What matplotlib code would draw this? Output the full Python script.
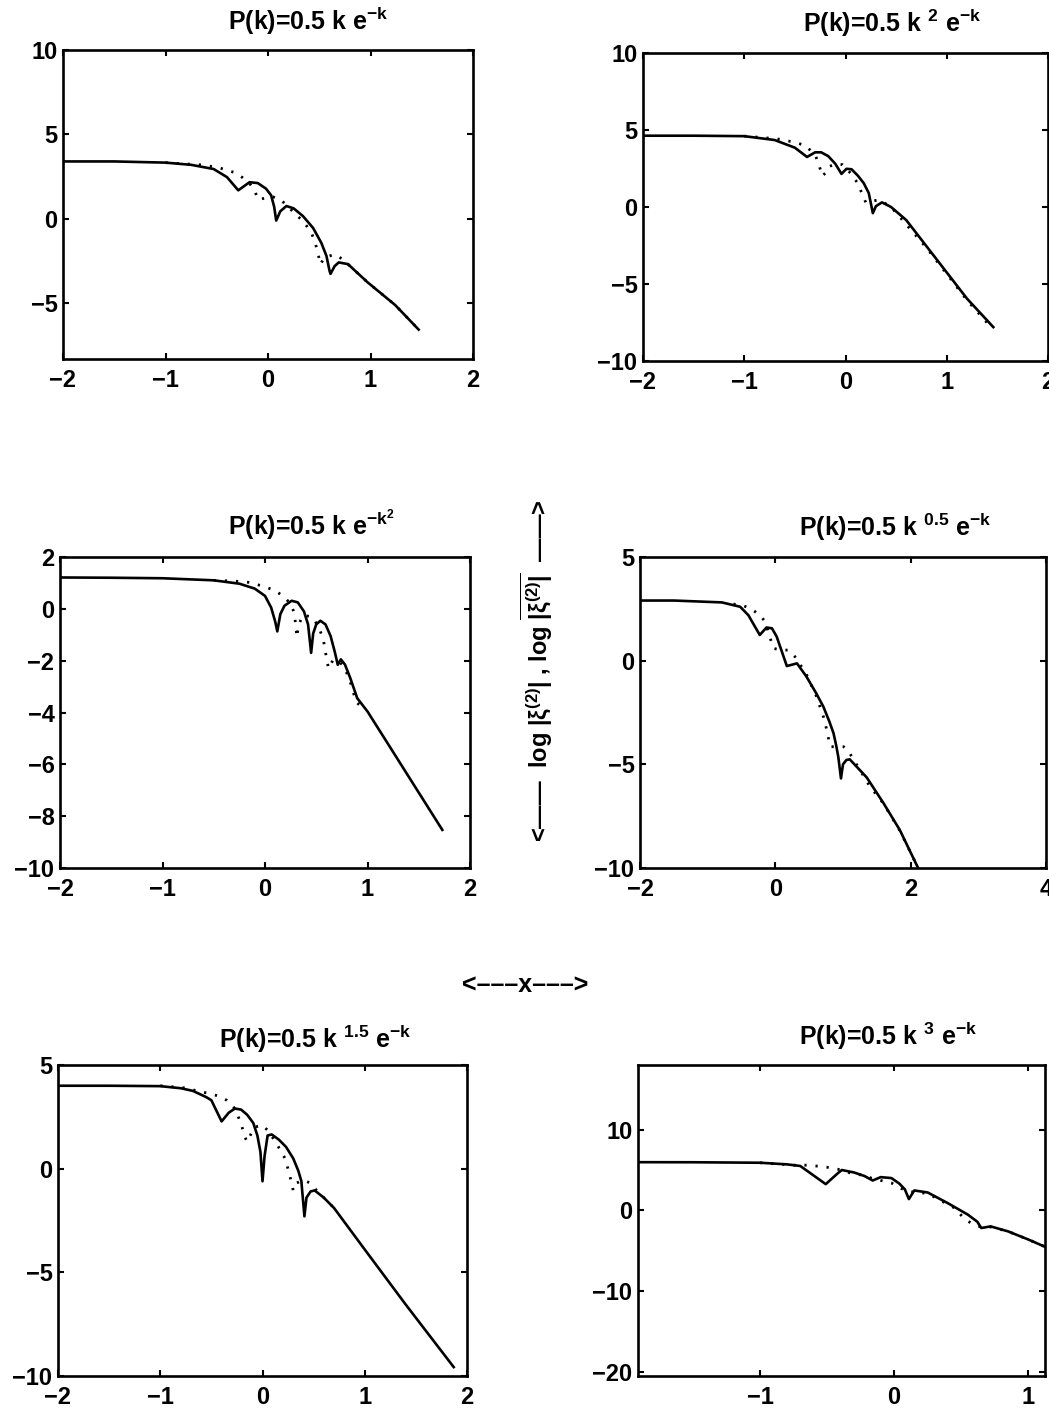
import matplotlib
matplotlib.use("Agg")
import matplotlib.pyplot as plt

plt.rcParams['font.family'] = ['Liberation Sans', 'DejaVu Sans']
plt.rcParams['font.weight'] = 'bold'
plt.rcParams['mathtext.fontset'] = 'custom'
plt.rcParams['mathtext.rm'] = 'Liberation Sans:bold'
plt.rcParams['mathtext.bf'] = 'Liberation Sans:bold'
plt.rcParams['mathtext.it'] = 'Liberation Sans:bold'
plt.rcParams['mathtext.default'] = 'bf'

# panel 1: P(k)=0.5 k e^-k
x1 = [-2, -1.5, -1, -0.75, -0.53, -0.4, -0.29, -0.18, -0.1, -0.02, 0.03, 0.06, 0.08,
      0.12, 0.18, 0.25, 0.34, 0.44, 0.52, 0.57, 0.6, 0.61, 0.65, 0.69, 0.78, 0.97, 1.24, 1.47]
y1 = [3.4, 3.4, 3.33, 3.2, 2.95, 2.47, 1.69, 2.17, 2.12, 1.79, 1.4, 0.72, -0.1,
      0.45, 0.76, 0.62, 0.17, -0.54, -1.42, -2.19, -3.07, -3.26, -2.8, -2.58, -2.68, -3.75, -5.1, -6.56]
x1d = [-1, -0.66, -0.49, -0.33, -0.25, -0.18, -0.13, -0.1, -0.05, 0.0, 0.05, 0.13, 0.2, 0.28,
       0.33, 0.38, 0.43, 0.46, 0.49, 0.51, 0.55, 0.65, 0.73, 0.8, 0.97, 1.24, 1.47]
y1d = [3.33, 3.2, 3.05, 2.75, 2.45, 2.1, 1.7, 1.15, 1.2, 1.3, 1.3, 1.1, 0.7, 0.2,
       -0.06, -0.45, -0.93, -1.4, -2.1, -2.7, -2.3, -2.1, -2.4, -2.8, -3.75, -5.1, -6.56]

# panel 2: P(k)=0.5 k^2 e^-k
x2 = [-2, -1.5, -1, -0.7, -0.5, -0.38, -0.3, -0.24, -0.17, -0.1, -0.04, 0.01, 0.06, 0.12,
      0.18, 0.23, 0.27, 0.3, 0.36, 0.45, 0.6, 0.8, 1.0, 1.2, 1.46]
y2 = [4.63, 4.63, 4.6, 4.35, 3.85, 3.25, 3.55, 3.55, 3.3, 2.8, 2.15, 2.48, 2.45, 2.05,
      1.55, 0.9, -0.4, 0.05, 0.3, 0.0, -0.85, -2.55, -4.25, -5.95, -7.8]
x2d = [-1, -0.8, -0.65, -0.5, -0.4, -0.3, -0.26, -0.23, -0.2, -0.17, -0.1, -0.03, 0.05, 0.12,
       0.18, 0.2, 0.26, 0.34, 0.45, 0.8, 1.2, 1.45]
y2d = [4.6, 4.5, 4.4, 4.2, 4.0, 3.4, 2.7, 2.0, 2.2, 2.6, 2.8, 2.75, 2.2, 1.55,
       0.6, 0.3, 0.4, 0.45, 0.0, -2.65, -6.05, -7.9]

# panel 3: P(k)=0.5 k e^-k^2
x3 = [-2, -1.5, -1, -0.5, -0.25, -0.1, 0.0, 0.06, 0.1, 0.12, 0.15, 0.19, 0.26, 0.32, 0.38,
      0.42, 0.45, 0.47, 0.5, 0.54, 0.59, 0.64, 0.68, 0.71, 0.74, 0.78, 0.83, 0.9, 1.0, 1.73]
y3 = [1.21, 1.2, 1.18, 1.1, 0.97, 0.78, 0.5, 0.05, -0.5, -0.87, -0.2, 0.12, 0.31, 0.25, -0.1,
      -0.6, -1.7, -0.95, -0.6, -0.46, -0.6, -1.05, -1.65, -2.16, -1.95, -2.15, -2.65, -3.45, -3.96, -8.53]
x3d = [-0.5, -0.3, -0.15, 0.0, 0.1, 0.18, 0.25, 0.28, 0.3, 0.31, 0.33, 0.37, 0.45, 0.52,
       0.57, 0.6, 0.62, 0.66, 0.72, 0.78, 0.83, 0.89, 0.95]
y3d = [1.1, 1.07, 1.02, 0.85, 0.7, 0.48, 0.2, -0.1, -0.6, -1.1, -0.6, -0.25, -0.3, -0.65,
       -1.2, -1.9, -2.3, -2.0, -2.0, -2.3, -2.8, -3.6, -3.8]

# panel 4: P(k)=0.5 k^0.5 e^-k
x4 = [-2, -1.5, -0.79, -0.52, -0.4, -0.23, -0.13, -0.05, 0.02, 0.17, 0.32, 0.46, 0.6, 0.71,
      0.8, 0.86, 0.9, 0.93, 0.97, 1.0, 1.05, 1.1, 1.35, 1.6, 1.84, 2.11]
y4 = [2.9, 2.9, 2.81, 2.6, 2.2, 1.24, 1.6, 1.56, 1.16, -0.26, -0.13, -0.77, -1.55, -2.22,
      -2.95, -3.5, -4.1, -4.63, -5.68, -5.0, -4.79, -4.76, -5.63, -6.88, -8.17, -10.0]
x4d = [-0.62, -0.47, -0.35, -0.23, -0.15, -0.03, 0.07, 0.19, 0.29, 0.45, 0.61, 0.71, 0.76, 0.81,
       1.01, 1.1, 1.25, 1.4, 1.6, 1.84, 2.11]
y4d = [2.73, 2.65, 2.48, 2.2, 1.88, 0.6, 0.51, 0.51, 0.19, -0.6, -1.74, -2.7, -3.34, -4.15,
       -4.15, -4.47, -5.27, -6.08, -6.9, -8.2, -10.0]

# panel 5: P(k)=0.5 k^1.5 e^-k
x5 = [-2, -1.5, -1, -0.8, -0.68, -0.55, -0.5, -0.4, -0.33, -0.27, -0.21, -0.15, -0.09, -0.05,
      -0.02, 0.0, 0.02, 0.05, 0.09, 0.16, 0.23, 0.3, 0.35, 0.38, 0.41, 0.43, 0.47, 0.51, 0.6,
      0.7, 1.0, 1.4, 1.87]
y5 = [4.0, 4.0, 3.98, 3.88, 3.75, 3.45, 3.3, 2.28, 2.7, 2.9, 2.85, 2.6, 2.2, 1.6,
      0.8, -0.61, 0.6, 1.6, 1.65, 1.4, 1.05, 0.5, -0.1, -0.6, -2.3, -1.4, -1.1, -1.05, -1.4,
      -1.9, -3.9, -6.55, -9.57]
x5d = [-1, -0.77, -0.61, -0.5, -0.43, -0.35, -0.28, -0.24, -0.2, -0.17, -0.15, -0.12, -0.08,
       0.0, 0.06, 0.15, 0.22, 0.26, 0.29, 0.3, 0.33, 0.4, 0.47, 0.52, 0.6, 0.7]
y5d = [4.0, 3.9, 3.72, 3.6, 3.5, 3.3, 2.95, 2.55, 2.0, 1.5, 1.3, 1.6, 2.0,
       2.1, 1.8, 1.1, 0.5, -0.2, -0.8, -1.05, -0.7, -0.55, -0.7, -1.0, -1.4, -1.9]

# panel 6: P(k)=0.5 k^3 e^-k
x6 = [-1.91, -1.5, -1.0, -0.8, -0.7, -0.51, -0.42, -0.39, -0.3, -0.22, -0.16, -0.1, -0.02, 0.04,
      0.08, 0.11, 0.15, 0.25, 0.4, 0.55, 0.62, 0.65, 0.72, 0.85, 1.0, 1.125]
y6 = [5.97, 5.96, 5.9, 5.7, 5.5, 3.25, 4.6, 5.0, 4.7, 4.25, 3.7, 4.12, 4.0, 3.3,
      2.6, 1.4, 2.47, 2.22, 0.9, -0.53, -1.4, -2.18, -1.98, -2.6, -3.6, -4.5]
x6d = [-1.0, -0.75, -0.65, -0.52, -0.42, -0.32, -0.25, -0.15, -0.02, 0.02, 0.1, 0.25, 0.45,
       0.53, 0.62, 0.72, 0.85, 1.0, 1.125]
y6d = [5.9, 5.6, 5.6, 5.4, 5.1, 4.6, 4.4, 3.9, 3.4, 2.96, 2.35, 2.1, 0.3,
       -1.15, -1.98, -2.05, -2.6, -3.6, -4.5]

titles = [r'P(k)=0.5 k e$^{-k}$', r'P(k)=0.5 k $^{2}$ e$^{-k}$',
          r'P(k)=0.5 k e$^{-k^{2}}$', r'P(k)=0.5 k $^{0.5}$ e$^{-k}$',
          r'P(k)=0.5 k $^{1.5}$ e$^{-k}$', r'P(k)=0.5 k $^{3}$ e$^{-k}$']

W, H = 1049, 1409
# axes boxes in pixels: left, right, top, bottom
boxes = [(63, 473, 50, 359), (643, 1048, 53, 361),
         (60, 470, 557, 868), (640, 1046, 557, 868),
         (58, 467, 1065, 1376), (638, 1045, 1065, 1376)]
# title centres in pixels
title_pos = [(308, 21), (892, 23), (311, 525), (895, 527), (315, 1039), (888, 1036)]
xlims = [(-2, 2), (-2, 2), (-2, 2), (-2, 4), (-2, 2), (-1.91, 1.125)]
ylims = [(-8.3, 10), (-10, 10), (-10, 2), (-10, 5), (-10, 5), (-20.5, 18)]
xticks = [[-2, -1, 0, 1, 2], [-2, -1, 0, 1, 2], [-2, -1, 0, 1, 2], [-2, 0, 2, 4],
          [-2, -1, 0, 1, 2], [-1, 0, 1]]
yticks = [[-5, 0, 5, 10], [-10, -5, 0, 5, 10], [-10, -8, -6, -4, -2, 0, 2], [-10, -5, 0, 5],
          [-10, -5, 0, 5], [-20, -10, 0, 10]]
solid = [(x1, y1), (x2, y2), (x3, y3), (x4, y4), (x5, y5), (x6, y6)]
dotted = [(x1d, y1d), (x2d, y2d), (x3d, y3d), (x4d, y4d), (x5d, y5d), (x6d, y6d)]

fig = plt.figure(figsize=(W / 100, H / 100), dpi=100)

for i in range(6):
    l, r, t, b = boxes[i]
    ax = fig.add_axes([l / W, 1 - b / H, (r - l) / W, (b - t) / H])
    ax.plot(solid[i][0], solid[i][1], color='black', lw=1.9)
    ax.plot(dotted[i][0], dotted[i][1], color='black', lw=2.0, dashes=(0.8, 3.2))
    ax.set_xlim(xlims[i])
    ax.set_ylim(ylims[i])
    ax.set_xticks(xticks[i])
    ax.set_yticks(yticks[i])
    ax.tick_params(direction='in', top=True, right=True, length=4, width=1.5,
                   labelsize=17, pad=4)
    ax.tick_params(axis='x', pad=7)
    for s in ax.spines.values():
        s.set_linewidth(1.9)
    tx, ty = title_pos[i]
    fig.text(tx / W, 1 - ty / H, titles[i], ha='center', va='center',
             fontsize=18, fontweight='bold')

fig.text(537 / W, 1 - 671 / H,
         r'<——  log |$\xi^{(2)}$| , log $\overline{|\xi^{(2)}|}$  ——>',
         rotation=90, ha='center', va='center', fontsize=17, fontweight='bold')
fig.text(525 / W, 1 - 985 / H, '<–––x–––>', ha='center', va='center',
         fontsize=18, fontweight='bold')

fig.savefig('out.png', dpi=100)
